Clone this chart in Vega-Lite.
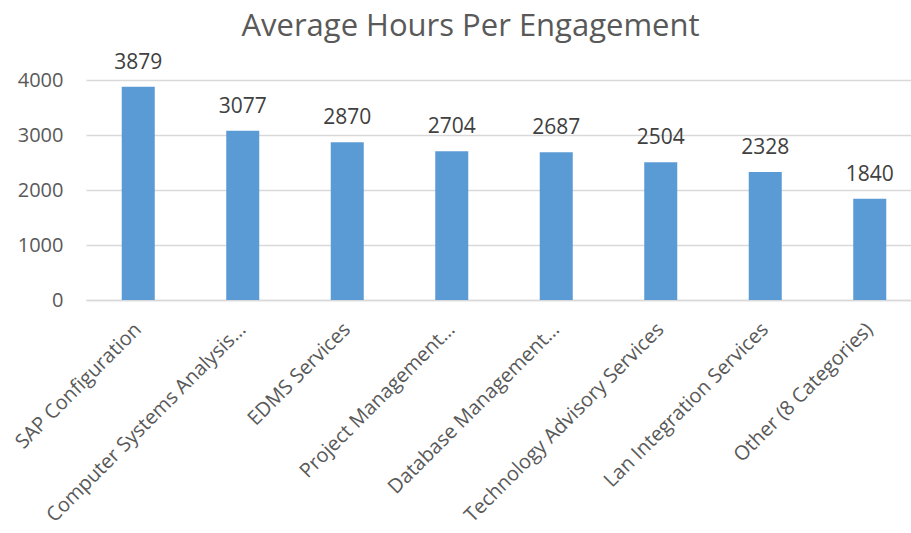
{
  "$schema": "https://vega.github.io/schema/vega-lite/v6.json",
  "autosize": {"type": "none"},
  "padding": {"left": 86, "top": 80, "right": 0, "bottom": 233},
  "width": 825,
  "height": 220,
  "background": "white",
  "title": {
    "text": "Average Hours Per Engagement",
    "font": "Open Sans",
    "fontSize": 31,
    "fontWeight": "normal",
    "color": "#595959",
    "anchor": "middle",
    "frame": "group",
    "dx": -28,
    "offset": 9
  },
  "data": {
    "values": [
      {"category": "SAP Configuration", "hours": 3879},
      {"category": "Computer Systems Analysis…", "hours": 3077},
      {"category": "EDMS Services", "hours": 2870},
      {"category": "Project Management…", "hours": 2704},
      {"category": "Database Management…", "hours": 2687},
      {"category": "Technology Advisory Services", "hours": 2504},
      {"category": "Lan Integration Services", "hours": 2328},
      {"category": "Other (8 Categories)", "hours": 1840}
    ]
  },
  "config": {
    "view": {"stroke": null},
    "font": "Open Sans"
  },
  "encoding": {
    "x": {
      "field": "category",
      "type": "nominal",
      "sort": null,
      "scale": {"range": [0, 836], "paddingInner": 0.684, "paddingOuter": 0.342},
      "axis": {
        "title": null,
        "labelAngle": -45,
        "labelAlign": "right",
        "labelBaseline": "middle",
        "labelFont": "Open Sans",
        "labelFontSize": 20,
        "labelColor": "#595959",
        "labelPadding": 26,
        "labelLimit": 400,
        "ticks": false,
        "domainColor": "#d9d9d9",
        "domainWidth": 1.5
      }
    },
    "y": {
      "field": "hours",
      "type": "quantitative",
      "scale": {"domain": [0, 4000]},
      "axis": {
        "title": null,
        "values": [0, 1000, 2000, 3000, 4000],
        "format": "d",
        "labelFont": "Open Sans",
        "labelFontSize": 20,
        "labelColor": "#595959",
        "labelPadding": 23,
        "ticks": false,
        "domain": false,
        "gridColor": "#d9d9d9",
        "gridWidth": 1.5
      }
    }
  },
  "layer": [
    {"mark": {"type": "bar", "color": "#5b9bd5"}},
    {
      "mark": {"type": "text", "baseline": "alphabetic", "dy": -18, "fontSize": 21, "color": "#404040", "font": "Open Sans"},
      "encoding": {"text": {"field": "hours", "type": "quantitative", "format": "d"}}
    }
  ]
}
